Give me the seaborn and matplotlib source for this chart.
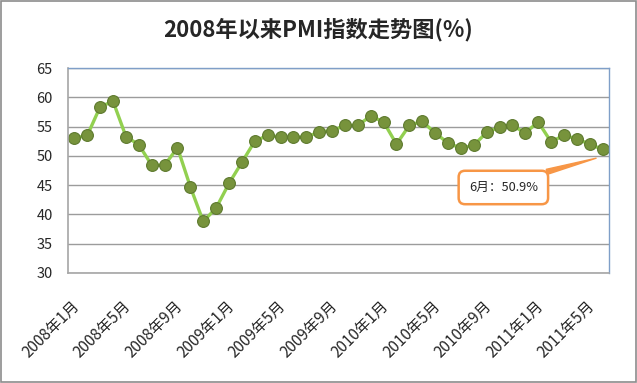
import matplotlib
matplotlib.use("Agg")
import matplotlib.pyplot as plt
import matplotlib.transforms as mtransforms
import seaborn as sns
import pandas as pd
import numpy as np
from matplotlib.patches import Rectangle

sns.set_style("white")
plt.rcParams['font.family'] = ['Noto Sans CJK SC', 'DejaVu Sans']

months = [f"{y}年{m}月" for y in (2008, 2009, 2010) for m in range(1, 13)] + \
         [f"2011年{m}月" for m in range(1, 7)]
pmi = [53.0, 53.5, 58.4, 59.3, 53.3, 51.9, 48.4, 48.4, 51.4, 44.7, 38.8, 41.1,
       45.3, 48.9, 52.5, 53.5, 53.2, 53.2, 53.2, 54.1, 54.3, 55.2, 55.2, 56.8,
       55.8, 52.0, 55.2, 55.9, 53.9, 52.2, 51.3, 51.8, 54.0, 54.9, 55.2, 53.9,
       55.8, 52.4, 53.5, 52.9, 52.0, 51.1]
title = "2008年以来PMI指数走势图(%)"
note = "6月：50.9%"
yticks = [30, 35, 40, 45, 50, 55, 60, 65]

df = pd.DataFrame({"idx": np.arange(len(pmi)), "month": months, "pmi": pmi})

fig = plt.figure(figsize=(6.37, 3.83), dpi=100)
ax = fig.add_axes([68/637, 1-273/383, (609-68)/637, (273-68)/383])

sns.lineplot(data=df, x="idx", y="pmi", ax=ax, color="#92D050", linewidth=2.4,
             marker="o", markersize=8.5, markerfacecolor="#77933C",
             markeredgecolor="#5E7A2E", markeredgewidth=0.8)

ax.set_xlim(-0.5, len(pmi) - 0.5)
ax.set_ylim(30, 65)
ax.set_yticks(yticks)
ax.set_yticklabels([str(v) for v in yticks], fontsize=10.5)
tick_pos = [i - 0.5 for i in range(0, len(pmi), 4)]
ax.set_xticks(tick_pos)
ax.set_xticklabels([months[i] for i in range(0, len(pmi), 4)], rotation=45,
                   ha="right", va="center", rotation_mode="anchor", fontsize=11)
ax.set_xlabel("")
ax.set_ylabel("")
ax.grid(axis="y", color="#9C9C9C", linewidth=1.0)
ax.tick_params(axis="y", length=4, width=0.8, color="#A6A6A6", direction="out", pad=7)
ax.tick_params(axis="x", length=4, width=0.8, color="#A6A6A6", direction="out", pad=18)
offset = mtransforms.ScaledTranslation(9/100, 0, fig.dpi_scale_trans)
for lab in ax.get_xticklabels():
    lab.set_transform(lab.get_transform() + offset)
for s in ("left", "bottom"):
    ax.spines[s].set_color("#A6A6A6")
    ax.spines[s].set_linewidth(1.2)
for s in ("top", "right"):
    ax.spines[s].set_color("#7F9FC8")
    ax.spines[s].set_linewidth(1.0)

ax.annotate(note, xy=(40.5, 49.6), xytext=(33.3, 44.6), textcoords="data",
            ha="center", va="center", fontsize=9.2,
            bbox=dict(boxstyle="round,pad=0.8,rounding_size=0.5", fc="white",
                      ec="#F79646", lw=1.8),
            arrowprops=dict(arrowstyle="wedge,tail_width=0.4,shrink_factor=0.5",
                            fc="#F79646", ec="#F79646", relpos=(0.65, 1.0),
                            shrinkA=0, shrinkB=0))

fig.text(0.5, 1-30/383, title, ha="center", va="center", fontsize=16,
         fontweight="bold")
fig.patches.append(Rectangle((0.001, 0.002), 0.997, 0.995, transform=fig.transFigure,
                             fill=False, ec="#8C8C8C", lw=1.2))

fig.savefig("out.png", dpi=100)
